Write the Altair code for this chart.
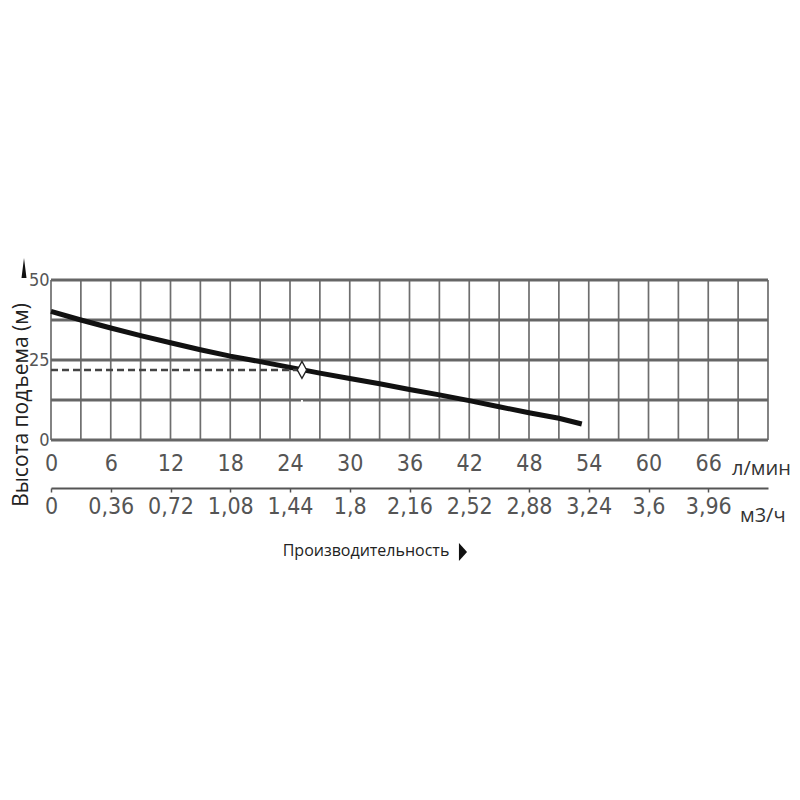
import altair as alt
import pandas as pd

# ---- data ----
flow_lmin = [0, 3, 6, 9, 12, 15, 18, 21, 24, 27, 30, 33, 36, 39, 42, 45, 48, 51, 53.3]
head_m = [40.2, 37.5, 35.0, 32.6, 30.4, 28.2, 26.2, 24.5, 22.7, 20.9, 19.2, 17.6, 15.8,
          14.1, 12.3, 10.4, 8.5, 6.8, 5.0]

duty_flow = [25.2]
duty_head = [21.9]
duty_start = [0]
duty_floor = [0]

grid_lmin = list(range(0, 73, 3))          # vertical grid lines every 3 l/min
grid_head = [0, 12.5, 25, 37.5, 50]        # horizontal grid lines
lmin_ticks = [0, 6, 12, 18, 24, 30, 36, 42, 48, 54, 60, 66]
head_ticks = [0, 25, 50]
m3h_ticks = [0, 0.36, 0.72, 1.08, 1.44, 1.8, 2.16, 2.52, 2.88, 3.24, 3.6, 3.96]

y_title = "Высота подъема (м)"
x_title = "Производительность"
unit_lmin = "л/мин"
unit_m3h = "м3/ч"

NARROW = "Liberation Sans Narrow, DejaVu Sans Condensed, sans-serif"
SANS = "Open Sans, Noto Sans, sans-serif"

curve_df = pd.DataFrame({"flow": flow_lmin, "head": head_m})
duty_df = pd.DataFrame({"q0": duty_start, "q": duty_flow, "h": duty_head, "h0": duty_floor})
vgrid_df = pd.DataFrame({"g": grid_lmin})
hgrid_df = pd.DataFrame({"g": grid_head})
m3h_df = pd.DataFrame({"m3h": m3h_ticks})
one = pd.DataFrame({"k": [0]})

x_scale = alt.Scale(domain=[0, 72], nice=False, zero=False)
y_scale = alt.Scale(domain=[0, 50], nice=False, zero=False)

x_axis = alt.Axis(values=lmin_ticks, grid=False, domain=False, ticks=False,
                  labelPadding=12, labelFont=NARROW, labelFontSize=23, labelColor="#555",
                  labelFlush=False, labelOverlap=False, title=None)
y_axis = alt.Axis(values=head_ticks, grid=False, domain=False, ticks=False,
                  labelPadding=2, labelFont=NARROW, labelFontSize=18, labelColor="#555",
                  labelFlush=False, labelOverlap=False, title=None)

vgrid = alt.Chart(vgrid_df).mark_rule(color="#6e6e6e", strokeWidth=1.7).encode(
    x=alt.X("g:Q", scale=x_scale, axis=x_axis))

hgrid = alt.Chart(hgrid_df).mark_rule(color="#666", strokeWidth=2.8).encode(
    y=alt.Y("g:Q", scale=y_scale, axis=y_axis))

curve = alt.Chart(curve_df).mark_line(color="#111", strokeWidth=5).encode(
    x=alt.X("flow:Q", scale=x_scale, axis=x_axis),
    y=alt.Y("head:Q", scale=y_scale, axis=y_axis),
)

h_dash = alt.Chart(duty_df).mark_rule(color="#444", strokeWidth=2.5, strokeDash=[7, 4]).encode(
    x=alt.X("q0:Q", scale=x_scale, axis=x_axis), x2="q:Q",
    y=alt.Y("h:Q", scale=y_scale, axis=y_axis))

v_dash = alt.Chart(duty_df).mark_rule(color="white", strokeWidth=2, strokeDash=[5, 5]).encode(
    x=alt.X("q:Q", scale=x_scale, axis=x_axis),
    y=alt.Y("h:Q", scale=y_scale, axis=y_axis), y2="h0:Q")

marker = alt.Chart(duty_df).mark_point(
    shape="M0,-1L0.55,0L0,1L-0.55,0Z", size=290, filled=True, color="white",
    stroke="#222", strokeWidth=1.3, opacity=1).encode(
    x=alt.X("q:Q", scale=x_scale, axis=x_axis), y=alt.Y("h:Q", scale=y_scale, axis=y_axis))

main = alt.layer(vgrid, hgrid, curve, h_dash, v_dash, marker)

m3h_axis = alt.Chart(m3h_df).mark_point(opacity=0).encode(
    x=alt.X("m3h:Q", scale=alt.Scale(domain=[0, 4.32], nice=False, zero=False), axis=alt.Axis(
        orient="bottom", offset=48, values=m3h_ticks,
        labelExpr="replace(format(datum.value, '.2~f'), '.', ',')",
        grid=False, domain=True, domainColor="#555", domainWidth=2.2,
        ticks=True, tickColor="#555", tickSize=4, tickWidth=1.5,
        labelPadding=3, labelFont=NARROW, labelFontSize=23, labelColor="#555",
        labelFlush=False, labelOverlap=False, title=None)))

ytitle = alt.Chart(one).mark_text(angle=270, font=SANS, fontSize=21, color="#222",
                                  align="center", baseline="middle").encode(
    x=alt.value(-29), y=alt.value(125), text=alt.value(y_title))

xtitle = alt.Chart(one).mark_text(font=SANS, fontSize=16, color="#222",
                                  align="center", baseline="middle").encode(
    x=alt.value(315), y=alt.value(271), text=alt.value(x_title))

lmin_txt = alt.Chart(one).mark_text(font=SANS, fontSize=20, color="#333",
                                    align="left", baseline="alphabetic").encode(
    x=alt.value(681), y=alt.value(195), text=alt.value(unit_lmin))

m3h_txt = alt.Chart(one).mark_text(font=SANS, fontSize=20, color="#333",
                                   align="left", baseline="alphabetic").encode(
    x=alt.value(689), y=alt.value(242), text=alt.value(unit_m3h))

up_arrow = alt.Chart(one).mark_point(shape="M0,-1L0.25,1L-0.25,1Z", size=400, filled=True,
                                     color="#111", opacity=1).encode(
    x=alt.value(-27), y=alt.value(-12))

right_arrow = alt.Chart(one).mark_point(shape="M-0.45,-1L0.45,0L-0.45,1Z", size=324,
                                        filled=True, color="#111", opacity=1).encode(
    x=alt.value(412), y=alt.value(272))

chart = alt.layer(main, m3h_axis, ytitle, xtitle, lmin_txt, m3h_txt, up_arrow, right_arrow
                  ).resolve_scale(x="independent").properties(
    width=717, height=160,
    autosize=alt.AutoSizeParams(type="none"),
    padding={"left": 43, "top": 272, "right": 24, "bottom": 150},
).configure_view(stroke=None)

chart.save("out.html", embed_options={"renderer": "svg", "actions": False})
